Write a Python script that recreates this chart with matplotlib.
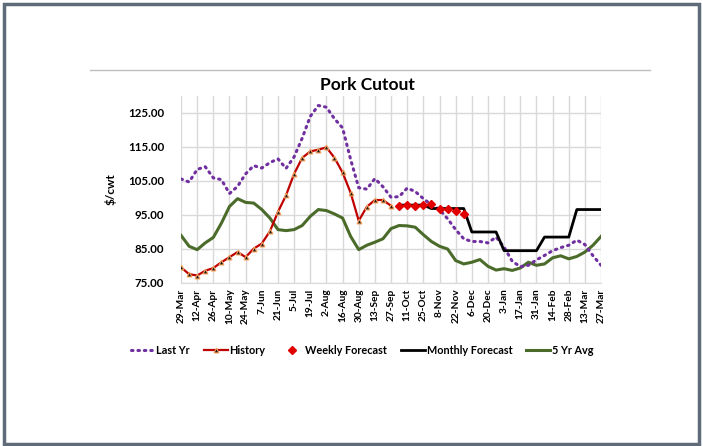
import matplotlib.pyplot as plt
from matplotlib.patches import Rectangle
from matplotlib.lines import Line2D
import numpy as np

# Weekly axis: 53 weeks from 29-Mar to 27-Mar, labelled every 2 weeks
tick_labels = ['29-Mar', '12-Apr', '26-Apr', '10-May', '24-May', '7-Jun', '21-Jun',
               '5-Jul', '19-Jul', '2-Aug', '16-Aug', '30-Aug', '13-Sep', '27-Sep',
               '11-Oct', '25-Oct', '8-Nov', '22-Nov', '6-Dec', '20-Dec', '3-Jan',
               '17-Jan', '31-Jan', '14-Feb', '28-Feb', '13-Mar', '27-Mar']

last_yr = [105.6, 104.7, 108.4, 109.2, 105.9, 105.4, 101.3, 103.4, 107.1, 109.5,
           108.8, 110.4, 111.5, 108.7, 112.1, 117.6, 124.0, 127.2, 126.7, 123.3,
           120.6, 111.3, 103.0, 102.6, 105.7, 103.3, 100.2, 100.4, 102.9, 101.9,
           99.8, 98.0, 96.6, 93.9, 90.7, 88.0, 87.2, 87.2, 86.8, 88.5,
           85.5, 81.4, 79.8, 80.2, 81.8, 83.1, 84.5, 85.4, 86.1, 87.6,
           86.3, 83.0, 80.2]

history = [79.6, 77.6, 77.2, 78.6, 79.4, 81.1, 82.6, 84.1, 82.6, 85.1,
           86.6, 90.2, 95.9, 100.8, 107.1, 111.8, 113.7, 114.2, 114.9, 111.8,
           107.5, 101.5, 93.3, 97.4, 99.4, 99.4, 97.7]

weekly_fc = [97.7, 98.0, 97.7, 98.0, 98.2, 96.9, 96.9, 96.1, 95.4]  # weeks 27-35

monthly_fc = [97.9, 97.9, 97.9, 97.9,          # Oct, weeks 27-30
              96.9, 96.9, 96.9, 96.9, 96.9,    # Nov
              90.0, 90.0, 90.0, 90.0,          # Dec
              84.5, 84.5, 84.5, 84.5, 84.5,    # Jan
              88.5, 88.5, 88.5, 88.5,          # Feb
              96.6, 96.6, 96.6, 96.6]          # Mar

five_yr = [89.0, 85.8, 84.8, 86.8, 88.4, 92.6, 97.5, 99.8, 98.7, 98.5,
           96.6, 94.1, 90.7, 90.4, 90.7, 91.9, 94.6, 96.6, 96.3, 95.3,
           94.1, 88.7, 84.8, 86.1, 87.0, 88.0, 91.0, 91.9, 91.8, 91.4,
           89.2, 87.2, 85.8, 85.0, 81.6, 80.6, 81.1, 81.9, 79.9, 78.8,
           79.2, 78.7, 79.4, 81.1, 80.2, 80.6, 82.4, 83.0, 82.1, 82.8,
           84.1, 86.1, 88.7]

FONT = 'Lato'
plt.rcParams['font.family'] = [FONT, 'DejaVu Sans']

fig = plt.figure(figsize=(7.03, 4.46), dpi=100)
ax = fig.add_axes([0.2575, 0.3655, 0.5975, 0.4193])

weeks = np.arange(len(last_yr))
ax.plot(weeks, last_yr, color='#7030a0', lw=2.2, ls=(0, (0.5, 1.6)),
        dash_capstyle='round', zorder=3)
ax.plot(np.arange(len(five_yr)), five_yr, color='#4b6b2a', lw=2.2, zorder=2)
ax.plot(np.arange(len(history)), history, color='#c00000', lw=1.6, marker='^',
        ms=3.5, mfc='#1a1a1a', mec='#f5a05a', mew=0.8, zorder=4)
mweeks = np.arange(27, 27 + len(monthly_fc))
ax.plot(mweeks, monthly_fc, color='black', lw=2.0, zorder=4)
fweeks = np.arange(27, 27 + len(weekly_fc))
ax.plot(fweeks, weekly_fc, ls='none', marker='D', ms=4.0, color='#e00000',
        mec='#e00000', zorder=5)

ax.set_xlim(0, 52)
ax.set_ylim(75, 130)
ax.set_xticks(np.arange(0, 53, 2))
ax.set_xticklabels(tick_labels, rotation=90, fontsize=7.3, fontweight='bold')
ax.set_yticks(np.arange(75, 126, 10))
ax.set_yticklabels([f'{v:.2f}' for v in np.arange(75, 126, 10)],
                   fontsize=8.3, fontweight='bold')
ax.tick_params(axis='both', length=0, colors='black')
ax.tick_params(axis='y', pad=12)
ax.tick_params(axis='x', pad=4)
ax.grid(True, color='#d9d9d9', lw=1.0, zorder=0)
ax.set_axisbelow(True)
for side in ['top', 'right', 'left']:
    ax.spines[side].set_visible(False)
ax.spines['bottom'].set_color('#d9d9d9')
ax.set_ylabel('$/cwt', fontsize=8.5, fontweight='bold', labelpad=8)

fig.text(0.522, 0.81, 'Pork Cutout', ha='center', va='center',
         fontsize=12.5, fontweight='bold')

# thin rule above the title and outer border
fig.add_artist(Line2D([90 / 703, 650 / 703], [1 - 70 / 446] * 2,
                      color='#bfbfbf', lw=1.0, transform=fig.transFigure))
fig.add_artist(Rectangle((0.005, 0.004), 0.99, 0.988, transform=fig.transFigure,
                         fill=False, ec='#5f6b78', lw=2.5))

handles = [
    Line2D([], [], color='#7030a0', lw=2.2, ls=(0, (0.5, 1.6)), dash_capstyle='round'),
    Line2D([], [], color='#c00000', lw=1.6, marker='^', ms=3.5, mfc='#1a1a1a',
           mec='#f5a05a', mew=0.8),
    Line2D([], [], ls='none', marker='D', ms=4.0, color='#e00000'),
    Line2D([], [], color='black', lw=2.0),
    Line2D([], [], color='#4b6b2a', lw=2.2),
]
labels = ['Last Yr', 'History', 'Weekly Forecast', 'Monthly Forecast', '5 Yr Avg']
fig.legend(handles, labels, loc='center', bbox_to_anchor=(0.515, 0.215), ncol=5,
           frameon=False, handlelength=2.2, handletextpad=0.15, columnspacing=1.3,
           prop={'family': FONT, 'weight': 'bold', 'size': 7.8})

fig.savefig('out.png', dpi=100)
